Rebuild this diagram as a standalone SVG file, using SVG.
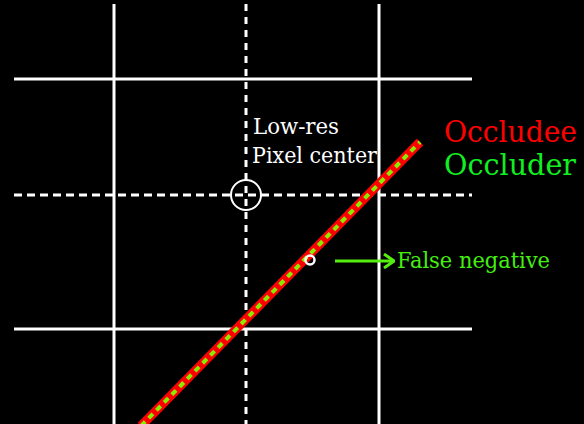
<svg xmlns="http://www.w3.org/2000/svg" width="584" height="424" viewBox="0 0 584 424">
<style>
.grid{stroke:#fff;stroke-width:3;fill:none}
.dash{stroke-dasharray:7 6}
.t{font-family:"DejaVu Serif Condensed","DejaVu Serif","Liberation Serif",serif}
</style>
<defs>
<marker id="ah" markerWidth="12" markerHeight="16" refX="11" refY="8" orient="auto" markerUnits="userSpaceOnUse">
<path d="M1,1 L11,8 L1,15" fill="none" stroke="#55ee11" stroke-width="3"/>
</marker>
</defs>
<rect width="584" height="424" fill="#000"/>
<g id="grid">
<line class="grid" x1="114" y1="4" x2="114" y2="424"/>
<line class="grid" x1="379" y1="4" x2="379" y2="424"/>
<line class="grid dash" x1="246" y1="4" x2="246" y2="424"/>
<line class="grid" x1="14" y1="79" x2="472" y2="79"/>
<line class="grid" x1="14" y1="329" x2="472" y2="329"/>
<line class="grid dash" x1="14" y1="195" x2="472" y2="195" style="stroke-dasharray:8 5"/>
</g>
<g id="occludee">
<line x1="141" y1="426" x2="420" y2="142" stroke="#ff0000" stroke-width="9"/>
</g>
<g id="occluder">
<line x1="141" y1="426" x2="420" y2="142" stroke="#88ee00" stroke-width="4" stroke-dasharray="6 5"/>
</g>
<g id="pixel-center">
<circle cx="246" cy="195" r="15" fill="none" stroke="#fff" stroke-width="2"/>
<text class="t" x="253" y="134" fill="#fff" font-size="23" textLength="86" lengthAdjust="spacingAndGlyphs">Low-res</text>
<text class="t" x="252" y="163" fill="#fff" font-size="23" textLength="125" lengthAdjust="spacingAndGlyphs">Pixel center</text>
</g>
<g id="false-negative-point">
<circle cx="310" cy="260" r="4.5" fill="none" stroke="#fff" stroke-width="2.5"/>
</g>
<g id="connectors">
<line x1="335" y1="261" x2="394" y2="261" stroke="#55ee11" stroke-width="3" marker-end="url(#ah)"/>
</g>
<g id="false-negative">
<text class="t" x="397" y="268" fill="#44ee11" font-size="23" textLength="153" lengthAdjust="spacingAndGlyphs">False negative</text>
</g>
<g id="legend">
<text class="t" x="444" y="142" fill="#ff0000" font-size="30" textLength="133" lengthAdjust="spacingAndGlyphs">Occludee</text>
<text class="t" x="444" y="175" fill="#11ee22" font-size="30" textLength="132" lengthAdjust="spacingAndGlyphs">Occluder</text>
</g>
</svg>
